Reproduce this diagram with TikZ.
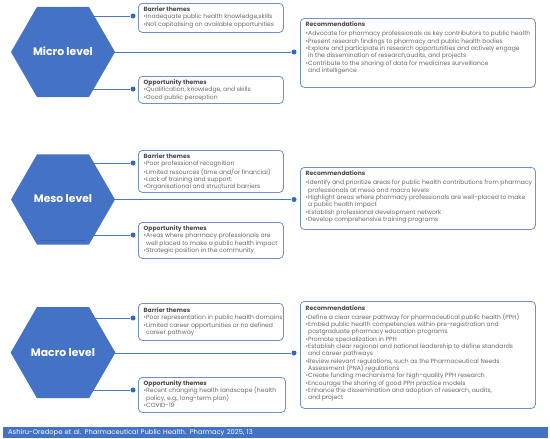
\documentclass[tikz,border=0pt]{standalone}
\usepackage{fontspec}
\setmainfont{Poppins}
\usetikzlibrary{shapes.geometric}
\pgfdeclarelayer{bg}
\pgfsetlayers{bg,main}
\definecolor{hexblue}{HTML}{4472C4}
\definecolor{hexshade}{HTML}{2B4E8F}
\definecolor{boxline}{HTML}{7090CC}
\definecolor{linkblue}{HTML}{4A78C8}
\definecolor{dotblue}{HTML}{3366CC}
\definecolor{bodytxt}{HTML}{6A6A6A}
\definecolor{titletxt}{HTML}{4A4A4A}
\definecolor{footblue}{HTML}{4472C4}
\newcommand\bind{\phantom{•}}
\newcommand\ttl[1]{{\bfseries\color{titletxt}#1}}
\begin{document}
\begin{tikzpicture}[x=1pt,y=-1pt,
 hexout/.style={regular polygon, regular polygon sides=6, minimum size=104pt, inner sep=0pt, fill=hexblue},
 hexshadow/.style={regular polygon, regular polygon sides=6, minimum size=91pt, inner sep=0pt, fill=hexshade, opacity=0.6},
 hexin/.style={regular polygon, regular polygon sides=6, minimum size=89pt, inner sep=0pt, fill=hexblue, text=white, font=\fontsize{10.8}{12}\selectfont\bfseries},
 themebox/.style={draw=boxline, line width=0.8pt, rounded corners=4pt, inner sep=0pt, anchor=north west},
 boxtext/.style={anchor=north west, inner sep=0pt, align=left, font=\fontsize{6.05}{7.3}\selectfont, text=bodytxt},
 dot/.style={circle, fill=dotblue, inner sep=0pt, minimum size=5pt},
 link/.style={draw=linkblue, line width=0.8pt}]
\useasboundingbox (0,0) rectangle (550,439);
\begin{pgfonlayer}{bg}
\fill[white] (0,0) rectangle (550,439);
\end{pgfonlayer}

% ---------------- Micro ----------------
\node[hexout] (hM) at (63,52) {};
\node[hexshadow] (hMs) at (63,53.8) {};
\node[hexin] (hMi) at (63,51.5) {Micro level};

\node[themebox, minimum width=145pt, minimum height=29pt] (mB) at (138,3) {};
\node[boxtext] (mBt) at (143.5,6.5) {\ttl{Barrier themes}\\
•Inadequate public health knowledge,skills\\
•Not capitalising on available opportunities};
\node[dot] (mBd) at (133,16) {};

\node[themebox, minimum width=145pt, minimum height=27pt] (mO) at (138,76) {};
\node[boxtext] (mOt) at (143.5,79.5) {\ttl{Opportunity themes}\\
•Qualification, knowledge, and skills\\
•Good public perception};
\node[dot] (mOd) at (133,89) {};

\node[themebox, minimum width=235pt, minimum height=69pt] (mR) at (300,18) {};
\node[boxtext] (mRt) at (305.5,21.5) {\ttl{Recommendations}\\[2pt]
•Advocate for pharmacy professionals as key contributors to public health\\
•Present research findings to pharmacy and public health bodies\\
•Explore and participate in research opportunities and actively engage\\
\bind in the dissemination of research,audits, and projects\\
•Contribute to the sharing of data for medicines surveillance\\
\bind and intelligence};
\node[dot] (mRd) at (294,52) {};

% ---------------- Meso ----------------
\node[hexout] (hS) at (63,199.5) {};
\node[hexshadow] (hSs) at (63,201.3) {};
\node[hexin] (hSi) at (63,199) {Meso level};

\node[themebox, minimum width=145pt, minimum height=42pt] (sB) at (138,150) {};
\node[boxtext] (sBt) at (143.5,153.5) {\ttl{Barrier themes}\\
•Poor professional recognition\\
•Limited resources (time and/or financial)\\
•Lack of training and support:\\
•Organisational and structural barriers};
\node[dot] (sBd) at (133,163) {};

\node[themebox, minimum width=145pt, minimum height=36pt] (sO) at (138,222) {};
\node[boxtext] (sOt) at (143.5,225.5) {\ttl{Opportunity themes}\\
•Areas where pharmacy professionals are\\
\bind well placed to make a public health impact\\
•Strategic position in the community};
\node[dot] (sOd) at (133,235) {};

\node[themebox, minimum width=235pt, minimum height=62pt] (sR) at (300,167) {};
\node[boxtext] (sRt) at (305.5,170.5) {\ttl{Recommendations}\\[2pt]
•Identify and prioritize areas for public health contributions from pharmacy\\
\bind professionals at meso and macro levels\\
•Highlight areas where pharmacy professionals are well-placed to make\\
\bind a public health impact\\
•Establish professional development network\\
•Develop comprehensive training programs};
\node[dot] (sRd) at (294,199.5) {};

% ---------------- Macro ----------------
\node[hexout] (hA) at (63,353) {};
\node[hexshadow] (hAs) at (63,354.8) {};
\node[hexin] (hAi) at (63,352.5) {Macro level};

\node[themebox, minimum width=145pt, minimum height=37pt] (aB) at (138,303) {};
\node[boxtext] (aBt) at (143.5,307.5) {\ttl{Barrier themes}\\
•Poor representation in public health domains\\
•Limited career opportunities or no defined\\
\bind career pathway};
\node[dot] (aBd) at (133,318) {};

\node[themebox, minimum width=147pt, minimum height=35pt] (aO) at (138,377) {};
\node[boxtext] (aOt) at (143.5,380.5) {\ttl{Opportunity themes}\\
•Recent changing health landscape (health\\
\bind policy, e.g., long-term plan)\\
•COVID-19};
\node[dot] (aOd) at (133,390) {};

\node[themebox, minimum width=235pt, minimum height=107pt] (aR) at (300,301) {};
\node[boxtext] (aRt) at (305.5,305) {\ttl{Recommendations}\\[2pt]
•Define a clear career pathway for pharmaceutical public health (PPH)\\
•Embed public health competencies within pre-registration and\\
\bind postgraduate pharmacy education programs.\\
•Promote specialization in PPH\\
•Establish clear regional and national leadership to define standards\\
\bind and career pathways\\
•Review relevant regulations, such as the Pharmaceutical Needs\\
\bind Assessment (PNA) regulations\\
•Create funding mechanisms for high-quality PPH research\\
•Encourage the sharing of good PPH practice models\\
•Enhance the dissemination and adoption of research, audits,\\
\bind and project};
\node[dot] (aRd) at (294,353) {};

% ---------------- Footer ----------------
\node[fill=footblue, anchor=north west, inner sep=0pt, minimum width=545pt, minimum height=11pt,
 text width=535pt, align=left, text=white, font=\fontsize{6.75}{7.5}\selectfont] (foot) at (3,427)
 {Ashiru-Oredope et al. Pharmaceutical Public Health. Pharmacy 2025, 13};

% ---------------- Connectors ----------------
\begin{pgfonlayer}{bg}
\draw[link] (hM.center |- mBd) -- (mBd);
\draw[link] (hM.center |- mOd) -- (mOd);
\draw[link] (hM.center) -- (mRd);
\draw[link] (hS.center |- sBd) -- (sBd);
\draw[link] (hS.center |- sOd) -- (sOd);
\draw[link] (hS.center) -- (sRd);
\draw[link] (hA.center |- aBd) -- (aBd);
\draw[link] (hA.center |- aOd) -- (aOd);
\draw[link] (hA.center) -- (aRd);
\end{pgfonlayer}
\end{tikzpicture}
\end{document}
